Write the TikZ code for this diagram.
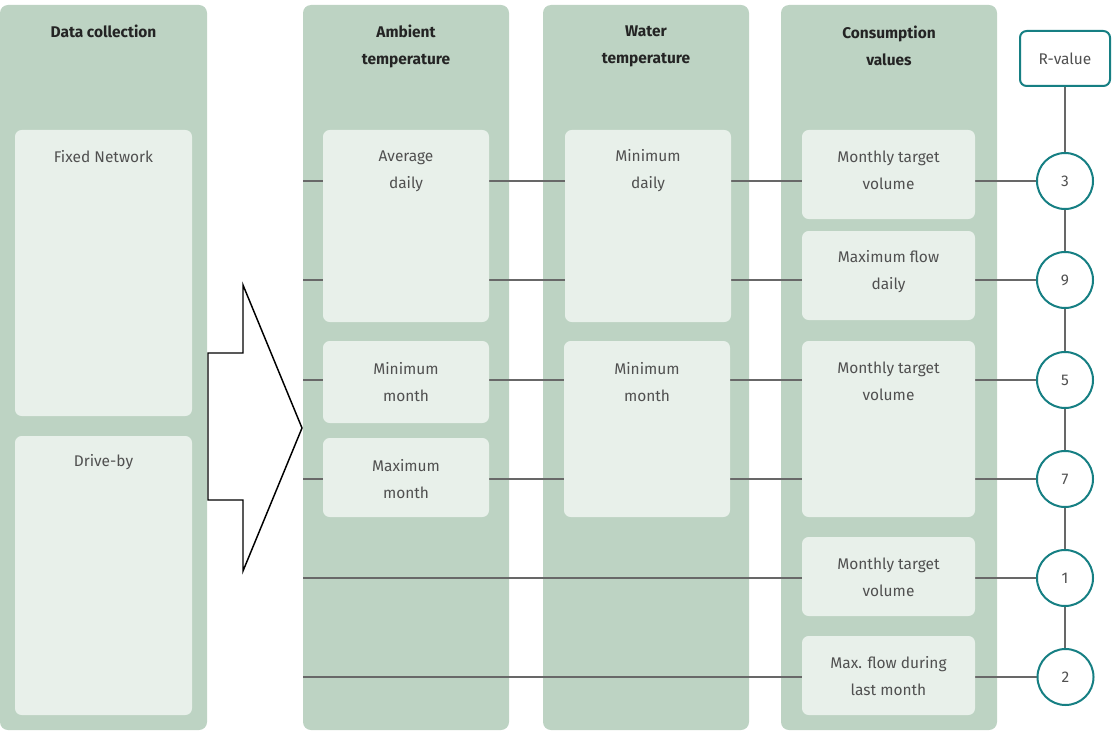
\documentclass[tikz,border=0pt]{standalone}
\usepackage{fontspec}
\setmainfont{Fira Sans}
\definecolor{colfill}{HTML}{BDD3C3}
\definecolor{infill}{HTML}{E8F0EA}
\definecolor{teal}{HTML}{167F83}
\definecolor{linegray}{HTML}{686868}
\definecolor{txtgray}{HTML}{505050}
\definecolor{hdgray}{HTML}{242424}
\pgfdeclarelayer{back}
\pgfdeclarelayer{mid}
\pgfsetlayers{back,mid,main}
\begin{document}
\begin{tikzpicture}[x=0.75pt,y=-0.75pt,
  column/.style={fill=colfill,draw=none,rounded corners=6pt,inner sep=0pt,outer sep=0pt,anchor=north west},
  inbox/.style={fill=infill,draw=none,rounded corners=5pt,inner sep=0pt,outer sep=0pt,anchor=north west},
  hd/.style={font=\fontsize{11.6}{20.25}\selectfont\bfseries,text=hdgray,align=center,inner sep=0pt},
  txt/.style={font=\fontsize{11.6}{20.25}\selectfont,text=txtgray,align=center,inner sep=0pt},
  rnode/.style={circle,draw=teal,line width=1.5pt,fill=white,minimum size=42pt,inner sep=0pt,font=\fontsize{11.6}{13}\selectfont,text=txtgray},
  rbox/.style={draw=teal,line width=1.5pt,fill=white,rounded corners=5pt,minimum width=67.5pt,minimum height=41.25pt,inner sep=0pt,font=\fontsize{11.6}{13}\selectfont,text=txtgray},
  conn/.style={draw=linegray,line width=1.7pt},
  bigarrow/.style={draw=black,line width=1.1pt,fill=white,line join=miter}
]
\useasboundingbox (0,0) rectangle (1112,731);
% columns
\begin{pgfonlayer}{back}
\node[column,minimum width=155.25pt,minimum height=543.75pt] (c1) at (0,5) {};
\node[column,minimum width=154.5pt,minimum height=543.75pt] (c2) at (303,5) {};
\node[column,minimum width=154.5pt,minimum height=543.75pt] (c3) at (543,5) {};
\node[column,minimum width=162pt,minimum height=543.75pt] (c4) at (781,5) {};
\end{pgfonlayer}
% headers
\node[hd] (h1) at (103.5,31) {Data collection};
\node[hd] (h2) at (406,46) {Ambient\\temperature};
\node[hd] (h3) at (646,46) {Water\\temperature};
\node[hd] (h4) at (889,45.5) {Consumption\\values};
% R-value and circles
\node[rbox] (rv) at (1065,58.5) {R-value};
\node[rnode] (r3) at (1065,181) {3};
\node[rnode] (r9) at (1065,280) {9};
\node[rnode] (r5) at (1065,380) {5};
\node[rnode] (r7) at (1065,479) {7};
\node[rnode] (r1) at (1065,578) {1};
\node[rnode] (r2) at (1065.5,677) {2};
% connectors (behind inner boxes)
\begin{pgfonlayer}{mid}
\draw[conn] (rv) -- (r3);
\draw[conn] (r3) -- (r9);
\draw[conn] (r9) -- (r5);
\draw[conn] (r5) -- (r7);
\draw[conn] (r7) -- (r1);
\draw[conn] (r1) -- (r1 |- r2.north);
\draw[conn] (c2.west |- r3) -- (r3);
\draw[conn] (c2.west |- r9) -- (r9);
\draw[conn] (c2.west |- r5) -- (r5);
\draw[conn] (c2.west |- r7) -- (r7);
\draw[conn] (c2.west |- r1) -- (r1);
\draw[conn] (c2.west |- r2) -- (r2);
\end{pgfonlayer}
% inner boxes column 1
\node[inbox,minimum width=132.75pt,minimum height=214.5pt] (fn) at (15,130) {};
\node[txt] (fnt) at (103.5,156.5) {Fixed Network};
\node[inbox,minimum width=132.75pt,minimum height=209.25pt] (db) at (15,436) {};
\node[txt] (dbt) at (103.5,462.5) {Drive-by};
% column 2
\node[inbox,minimum width=124.5pt,minimum height=144pt] (ad) at (323,130) {};
\node[txt] (adt) at (406,171) {Average\\daily};
\node[inbox,minimum width=124.5pt,minimum height=61.5pt] (mnm) at (323,341) {};
\node[txt] (mnmt) at (406,382) {Minimum\\month};
\node[inbox,minimum width=124.5pt,minimum height=59.25pt] (mxm) at (323,438) {};
\node[txt] (mxmt) at (406,479) {Maximum\\month};
% column 3
\node[inbox,minimum width=124.5pt,minimum height=144pt] (wmd) at (565,130) {};
\node[txt] (wmdt) at (648,171) {Minimum\\daily};
\node[inbox,minimum width=124.5pt,minimum height=132pt] (wmm) at (564,341) {};
\node[txt] (wmmt) at (647,382) {Minimum\\month};
% column 4
\node[inbox,minimum width=129.75pt,minimum height=66.75pt] (v1) at (802,130) {};
\node[txt] (v1t) at (888.5,170.5) {Monthly target\\volume};
\node[inbox,minimum width=129.75pt,minimum height=66.75pt] (v2) at (802,231) {};
\node[txt] (v2t) at (888.5,271.5) {Maximum flow\\daily};
\node[inbox,minimum width=129.75pt,minimum height=132pt] (v3) at (802,341) {};
\node[txt] (v3t) at (888.5,381.5) {Monthly target\\volume};
\node[inbox,minimum width=129.75pt,minimum height=59.25pt] (v4) at (802,537) {};
\node[txt] (v4t) at (888.5,577.5) {Monthly target\\volume};
\node[inbox,minimum width=129.75pt,minimum height=59.25pt] (v5) at (802,636) {};
\node[txt] (v5t) at (888.5,676.5) {Max. flow during\\last month};
% big arrow
\draw[bigarrow] (208,353) -- (243,353) -- (243,285) -- (302,428) -- (243,571) -- (243,500) -- (208,500) -- cycle;
\end{tikzpicture}
\end{document}
